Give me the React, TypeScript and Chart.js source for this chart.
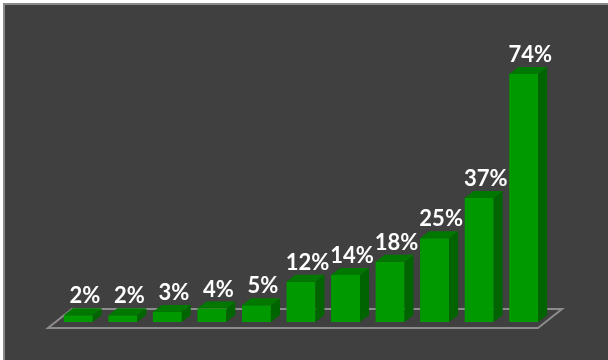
import React, { useEffect, useRef } from 'react';
import { Chart, registerables } from 'chart.js';

Chart.register(...registerables);

const categories = ['C1', 'C2', 'C3', 'C4', 'C5', 'C6', 'C7', 'C8', 'C9', 'C10', 'C11'];
const shares = [2, 2, 3, 4, 5, 12, 14, 18, 25, 37, 74];
const shareLabels = ['2%', '2%', '3%', '4%', '5%', '12%', '14%', '18%', '25%', '37%', '74%'];

const DX = 9;
const DY = 7;

const backgroundPlugin = {
  id: 'bgFrame',
  beforeDraw(chart: any) {
    const { ctx, width, height } = chart;
    ctx.save();
    ctx.fillStyle = '#ffffff';
    ctx.fillRect(0, 0, width, height);
    ctx.fillStyle = '#404040';
    ctx.fillRect(4, 4, width, height);
    ctx.strokeStyle = '#8a8a8a';
    ctx.lineWidth = 2;
    ctx.strokeRect(4, 4, width + 20, height + 20);
    ctx.restore();
  },
};

const floorPlugin = {
  id: 'floor3d',
  beforeDatasetsDraw(chart: any) {
    const { ctx, chartArea } = chart;
    const { left, right, bottom } = chartArea;
    ctx.save();
    ctx.strokeStyle = '#8c8c8c';
    ctx.lineWidth = 2;
    ctx.lineJoin = 'miter';
    ctx.beginPath();
    ctx.moveTo(left - 8, bottom + 6);
    ctx.lineTo(right - 8, bottom + 6);
    ctx.lineTo(right + 16, bottom - 13);
    ctx.lineTo(left + 16, bottom - 13);
    ctx.closePath();
    ctx.stroke();
    ctx.restore();
  },
};

const bars3dPlugin = {
  id: 'bars3d',
  afterDatasetsDraw(chart: any) {
    const { ctx } = chart;
    const meta = chart.getDatasetMeta(0);
    ctx.save();
    meta.data.forEach((bar: any) => {
      const { x, y, base, width } = bar.getProps(['x', 'y', 'base', 'width'], true);
      const l = x - width / 2;
      const r = x + width / 2;
      ctx.fillStyle = '#006400';
      ctx.beginPath();
      ctx.moveTo(r, y);
      ctx.lineTo(r + DX, y - DY);
      ctx.lineTo(r + DX, base - DY);
      ctx.lineTo(r, base);
      ctx.closePath();
      ctx.fill();
      ctx.fillStyle = '#007800';
      ctx.beginPath();
      ctx.moveTo(l, y);
      ctx.lineTo(l + DX, y - DY);
      ctx.lineTo(r + DX, y - DY);
      ctx.lineTo(r, y);
      ctx.closePath();
      ctx.fill();
    });
    ctx.fillStyle = '#ffffff';
    ctx.font = 'bold 22px Lato';
    ctx.textAlign = 'center';
    ctx.textBaseline = 'alphabetic';
    meta.data.forEach((bar: any, i: number) => {
      const { x, y } = bar.getProps(['x', 'y'], true);
      ctx.fillText(shareLabels[i], x + DX / 2 + 2, y - DY - 5);
    });
    ctx.restore();
  },
};

export default function App() {
  const canvasRef = useRef<HTMLCanvasElement | null>(null);

  useEffect(() => {
    if (!canvasRef.current) return;
    const chart = new Chart(canvasRef.current, {
      type: 'bar',
      data: {
        labels: categories,
        datasets: [
          {
            data: shares,
            backgroundColor: '#009900',
            borderWidth: 0,
            barPercentage: 0.65,
            categoryPercentage: 1,
          },
        ],
      },
      options: {
        responsive: false,
        animation: false,
        devicePixelRatio: 1,
        layout: { padding: { left: 56, right: 62, top: 54, bottom: 38 } },
        plugins: {
          legend: { display: false },
          tooltip: { enabled: false },
          title: { display: false },
        },
        scales: {
          x: { display: false },
          y: { display: false, min: 0, max: 80 },
        },
      },
      plugins: [backgroundPlugin, floorPlugin, bars3dPlugin],
    });
    return () => chart.destroy();
  }, []);

  return (
    <div style={{ position: 'fixed', left: 0, top: 0, width: 608, height: 360 }}>
      <canvas ref={canvasRef} width={608} height={360} style={{ display: 'block' }} />
    </div>
  );
}
